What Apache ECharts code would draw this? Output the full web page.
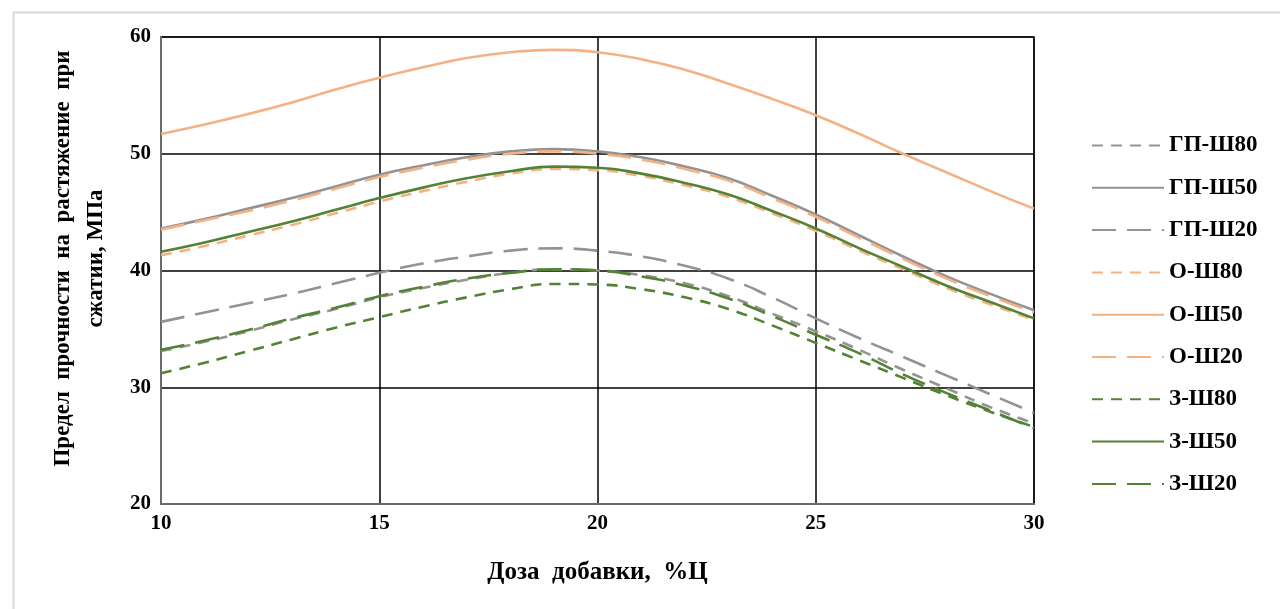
<!DOCTYPE html>
<html>
<head>
<meta charset="utf-8">
<script src="https://cdn.jsdelivr.net/npm/echarts@6/dist/echarts.min.js"></script>
<style>
html,body{margin:0;padding:0;background:#fff;}
#c{width:1280px;height:609px;}
</style>
</head>
<body>
<div id="c"></div>
<script>
const xValues = [10,11,12,13,14,15,16,17,18,19,20,21,22,23,24,25,26,27,28,29,30];
const seriesNames = ['ГП-Ш80','ГП-Ш50','ГП-Ш20','О-Ш80','О-Ш50','О-Ш20','З-Ш80','З-Ш50','З-Ш20'];
const gpSh80 = [33.1,33.9,34.8,35.8,36.7,37.7,38.5,39.2,39.8,40.1,40.0,39.6,38.9,37.8,36.3,34.8,33.2,31.5,29.9,28.3,26.9];
const gpSh50 = [43.6,44.4,45.3,46.2,47.2,48.2,49.0,49.7,50.2,50.4,50.2,49.7,48.9,47.9,46.4,44.8,43.0,41.2,39.5,38.0,36.6];
const gpSh20 = [35.6,36.4,37.2,38.0,38.9,39.8,40.6,41.2,41.7,41.9,41.7,41.2,40.4,39.3,37.7,35.9,34.2,32.6,31.0,29.4,27.8];
const oSh80 = [41.3,42.1,43.0,43.9,44.9,45.9,46.8,47.6,48.3,48.7,48.6,48.1,47.3,46.3,44.9,43.4,41.7,40.1,38.5,37.1,35.8];
const oSh50 = [51.7,52.5,53.4,54.4,55.5,56.5,57.4,58.2,58.7,58.9,58.7,58.1,57.2,56.0,54.7,53.3,51.7,50.0,48.4,46.8,45.3];
const oSh20 = [43.5,44.3,45.1,46.0,47.0,48.0,48.8,49.5,50.0,50.2,50.0,49.5,48.7,47.7,46.2,44.6,42.8,41.0,39.3,37.8,36.4];
const zSh80 = [31.2,32.1,33.1,34.1,35.1,36.0,36.9,37.7,38.4,38.85,38.8,38.4,37.7,36.7,35.3,33.8,32.3,30.8,29.3,27.9,26.6];
const zSh50 = [41.6,42.4,43.3,44.2,45.2,46.2,47.1,47.9,48.5,48.9,48.8,48.3,47.5,46.5,45.1,43.6,41.9,40.3,38.7,37.3,35.9];
const zSh20 = [33.2,34.0,34.9,35.9,36.8,37.8,38.6,39.3,39.8,40.1,40.0,39.5,38.7,37.6,36.1,34.5,32.9,31.1,29.5,28.0,26.5];
const xTicks = [10,15,20,25,30];
const yTicks = [20,30,40,50,60];

const GRAY = '#939393', ORANGE = '#f4b183', GREEN = '#548235';
const SHORT = [11,8], LONG = [24,11];
const styles = [
  {c:GRAY, t:SHORT}, {c:GRAY, t:'solid'}, {c:GRAY, t:LONG},
  {c:ORANGE, t:SHORT}, {c:ORANGE, t:'solid'}, {c:ORANGE, t:LONG},
  {c:GREEN, t:SHORT}, {c:GREEN, t:'solid'}, {c:GREEN, t:LONG}
];
const dataSets = [gpSh80, gpSh50, gpSh20, oSh80, oSh50, oSh20, zSh80, zSh50, zSh20];

const FONT = '"Liberation Serif", "Times New Roman", serif';
const chart = echarts.init(document.getElementById('c'));
const series = seriesNames.map((n, i) => ({
  name: n,
  type: 'line',
  smooth: 0.5,
  symbol: 'none',
  showSymbol: false,
  data: xValues.map((x, j) => [x, dataSets[i][j]]),
  lineStyle: {color: styles[i].c, width: 2.6, type: styles[i].t},
  itemStyle: {color: styles[i].c},
  z: 3
}));
chart.setOption({
  animation: false,
  backgroundColor: '#fff',
  graphic: [{
    type: 'rect', left: 11, top: 10, shape: {width: 1300, height: 650},
    style: {fill: 'none', stroke: '#d9d9d9', lineWidth: 2}, silent: true
  }],
  grid: {left: 161, top: 37, right: 246, bottom: 105, containLabel: false, outerBoundsMode: 'none',
    show: true, borderColor: '#6b6b6b', borderWidth: 2, backgroundColor: 'transparent'},
  xAxis: {
    type: 'value', min: 10, max: 30, interval: 5,
    axisLine: {show: true, lineStyle: {color: '#6b6b6b', width: 2}},
    axisTick: {show: false},
    splitLine: {show: true, lineStyle: {color: '#000', width: 1.5}},
    axisLabel: {color: '#000', fontFamily: FONT, fontWeight: 'bold', fontSize: 21, margin: 9,
      formatter: v => xTicks.includes(v) ? String(v) : ''},
    name: 'Доза  добавки,  %Ц', nameLocation: 'middle', nameGap: 56,
    nameTextStyle: {color: '#000', fontFamily: FONT, fontWeight: 'bold', fontSize: 25}
  },
  yAxis: {
    type: 'value', min: 20, max: 60, interval: 10,
    axisLine: {show: true, lineStyle: {color: '#6b6b6b', width: 2}},
    axisTick: {show: false},
    splitLine: {show: true, lineStyle: {color: '#000', width: 1.5}},
    axisLabel: {color: '#000', fontFamily: FONT, fontWeight: 'bold', fontSize: 21, margin: 10,
      formatter: v => yTicks.includes(v) ? String(v) : ''},
    name: 'Предел  прочности  на  растяжение  при\nсжатии, МПа', nameLocation: 'middle', nameGap: 48, nameRotate: 90,
    nameTextStyle: {color: '#000', fontFamily: FONT, fontWeight: 'bold', fontSize: 23, lineHeight: 33, padding: [0,0,0,24]}
  },
  legend: {
    orient: 'vertical', left: 1086, top: 129,
    itemWidth: 72, itemHeight: 20, itemGap: 19.3,
    itemStyle: {opacity: 0},
    textStyle: {color: '#000', fontFamily: FONT, fontWeight: 'bold', fontSize: 23},
    data: seriesNames
  },
  series: series
});
</script>
</body>
</html>
